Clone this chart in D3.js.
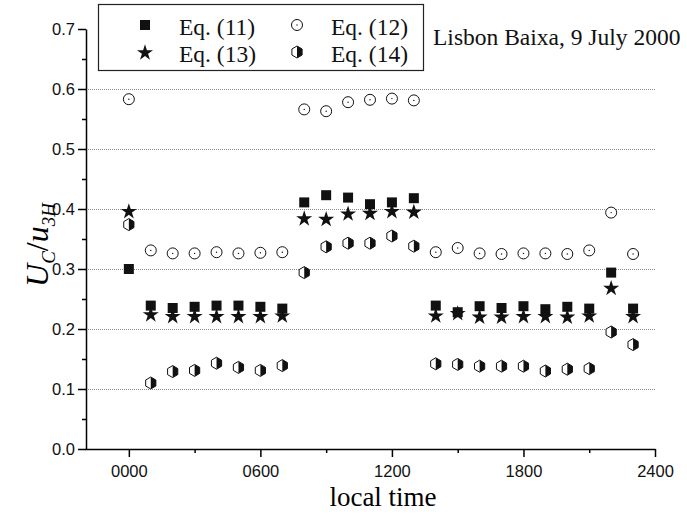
<!DOCTYPE html>
<html>
<head>
<meta charset="utf-8">
<script src="https://cdn.jsdelivr.net/npm/d3@7"></script>
<style>
  body { margin: 0; background: #fff; }
  svg { display: block; }
</style>
</head>
<body>
<svg id="chart" width="687" height="514"></svg>
<script>
// local time (hhmm) of each measurement
var hours = [0, 100, 200, 300, 400, 500, 600, 700, 800, 900, 1000, 1100,
             1200, 1300, 1400, 1500, 1600, 1700, 1800, 1900, 2000, 2100, 2200, 2300];

var eq11 = [0.300, 0.239, 0.235, 0.237, 0.239, 0.239, 0.237, 0.234, 0.411, 0.423, 0.419, 0.408,
            0.411, 0.418, 0.239, 0.228, 0.238, 0.235, 0.238, 0.233, 0.237, 0.234, 0.294, 0.234];
var eq12 = [0.583, 0.331, 0.326, 0.326, 0.328, 0.326, 0.327, 0.328, 0.566, 0.563, 0.578, 0.582,
            0.584, 0.581, 0.328, 0.335, 0.326, 0.325, 0.326, 0.326, 0.325, 0.331, 0.394, 0.325];
var eq13 = [0.397, 0.225, 0.222, 0.222, 0.222, 0.222, 0.222, 0.223, 0.385, 0.384, 0.393, 0.394,
            0.397, 0.396, 0.223, 0.227, 0.221, 0.221, 0.222, 0.222, 0.221, 0.223, 0.269, 0.222];
var eq14 = [0.374, 0.110, 0.129, 0.131, 0.143, 0.136, 0.131, 0.139, 0.294, 0.337, 0.343, 0.343,
            0.355, 0.338, 0.142, 0.141, 0.138, 0.138, 0.138, 0.130, 0.133, 0.134, 0.195, 0.174];

var xTicks = [0, 600, 1200, 1800, 2400];
var xMinor = [300, 900, 1500, 2100];
var yTicks = [0, 0.1, 0.2, 0.3, 0.4, 0.5, 0.6, 0.7];
var yMinor = [0.05, 0.15, 0.25, 0.35, 0.45, 0.55, 0.65];
var gridVals = [0.1, 0.2, 0.3, 0.4, 0.5, 0.6];

var legendNames = ["Eq. (11)", "Eq. (12)", "Eq. (13)", "Eq. (14)"];
var title = "Lisbon Baixa, 9 July 2000";

var svg = d3.select("#chart"),
    plotLeft = 86, plotRight = 655, plotTop = 29, plotBottom = 449;

var x = d3.scaleLinear().domain([-200, 2400]).range([plotLeft - 1, plotRight]),
    y = d3.scaleLinear().domain([0, 0.7]).range([plotBottom, plotTop]);

var sans = "'Liberation Sans', Arial, sans-serif",
    serif = "'Liberation Serif', 'Times New Roman', serif";

// dotted grid
svg.append("g")
    .selectAll("line")
    .data(gridVals)
    .enter().append("line")
    .attr("x1", plotLeft).attr("x2", plotRight)
    .attr("y1", function (d) { return Math.round(y(d)) + 0.5; })
    .attr("y2", function (d) { return Math.round(y(d)) + 0.5; })
    .attr("stroke", "#8a8a8a")
    .attr("stroke-width", 1)
    .attr("stroke-dasharray", "1,1");

// axes
var xAxis = svg.append("g")
    .attr("transform", "translate(0," + plotBottom + ")")
    .call(d3.axisBottom(x).tickValues(xTicks).tickSize(8).tickSizeOuter(0)
        .tickFormat(d3.format("04d")));
svg.append("g")
    .attr("transform", "translate(0," + plotBottom + ")")
    .call(d3.axisBottom(x).tickValues(xMinor).tickSize(4).tickSizeOuter(0).tickFormat(""))
    .select(".domain").remove();

var yAxis = svg.append("g")
    .attr("transform", "translate(" + plotLeft + ",0)")
    .call(d3.axisLeft(y).tickValues(yTicks).tickSize(8).tickSizeOuter(0)
        .tickFormat(d3.format(".1f")));
svg.append("g")
    .attr("transform", "translate(" + plotLeft + ",0)")
    .call(d3.axisLeft(y).tickValues(yMinor).tickSize(4).tickSizeOuter(0).tickFormat(""))
    .select(".domain").remove();

svg.selectAll(".domain, .tick line")
    .attr("stroke", "#000")
    .attr("stroke-width", 1.5);

xAxis.selectAll("text")
    .attr("font-family", sans).attr("font-size", 16.5).attr("fill", "#111").attr("dy", "1.05em");
yAxis.selectAll("text")
    .attr("font-family", sans).attr("font-size", 16.5).attr("fill", "#111").attr("x", -11);

// axis titles
svg.append("text")
    .attr("x", 383).attr("y", 506)
    .attr("text-anchor", "middle")
    .attr("font-family", serif).attr("font-size", 27)
    .text("local time");

var yl = svg.append("text")
    .attr("transform", "translate(48,245) rotate(-90)")
    .attr("text-anchor", "middle")
    .attr("font-family", serif).attr("font-style", "italic").attr("font-size", 32);
yl.append("tspan").text("U");
yl.append("tspan").attr("font-size", 19).attr("dy", 7).text("C");
yl.append("tspan").attr("dy", -7).attr("font-style", "normal").text("/");
yl.append("tspan").text("u");
yl.append("tspan").attr("font-size", 19).attr("dy", 7).text("3H");

// marker shapes
var hexPts = function (r) {
    var w = r * 0.85;
    return [[0, -r], [w, -r / 2], [w, r / 2], [0, r], [-w, r / 2], [-w, -r / 2]];
};

function drawSquare(g) {
    g.append("rect").attr("x", -5).attr("y", -5).attr("width", 10).attr("height", 10)
        .attr("fill", "#111");
}
function drawCircle(g) {
    g.append("circle").attr("r", 5.5).attr("fill", "#fff").attr("stroke", "#111").attr("stroke-width", 1);
    g.append("circle").attr("r", 0.7).attr("fill", "#111");
}
function drawStar(g) {
    g.append("path").attr("d", d3.symbol().type(d3.symbolStar).size(80)())
        .attr("transform", "translate(0,0.8)")
        .attr("fill", "#111");
}
function drawHex(g) {
    var p = hexPts(6);
    g.append("path")
        .attr("d", "M" + p[0] + "L" + p[5] + "L" + p[4] + "L" + p[3] + "Z")
        .attr("fill", "#fff");
    g.append("path")
        .attr("d", "M" + p[0] + "L" + p[1] + "L" + p[2] + "L" + p[3] + "Z")
        .attr("fill", "#111");
    g.append("path")
        .attr("d", "M" + p.join("L") + "Z")
        .attr("fill", "none").attr("stroke", "#111").attr("stroke-width", 1);
}

var series = [
    { vals: eq11, draw: drawSquare },
    { vals: eq12, draw: drawCircle },
    { vals: eq13, draw: drawStar },
    { vals: eq14, draw: drawHex }
];

series.forEach(function (s) {
    svg.append("g")
        .selectAll("g")
        .data(hours)
        .enter().append("g")
        .attr("transform", function (d, i) {
            return "translate(" + x(d) + "," + y(s.vals[i]) + ")";
        })
        .each(function () { s.draw(d3.select(this)); });
});

// legend
var lg = svg.append("g");
lg.append("rect")
    .attr("x", 98.5).attr("y", 4.5).attr("width", 325).attr("height", 66)
    .attr("fill", "#fff").attr("stroke", "#222").attr("stroke-width", 1.2);

var legendPos = [[145, 25], [297, 25], [145, 52], [297, 52]];
legendNames.forEach(function (name, i) {
    var g = lg.append("g").attr("transform", "translate(" + legendPos[i][0] + "," + legendPos[i][1] + ")");
    series[i].draw(g);
    lg.append("text")
        .attr("x", legendPos[i][0] + 34).attr("y", legendPos[i][1] + 10)
        .attr("font-family", serif).attr("font-size", 23.5).attr("fill", "#111")
        .text(name);
});

svg.append("text")
    .attr("x", 433).attr("y", 45)
    .attr("font-family", serif).attr("font-size", 23.5).attr("fill", "#111")
    .text(title);
</script>
</body>
</html>
